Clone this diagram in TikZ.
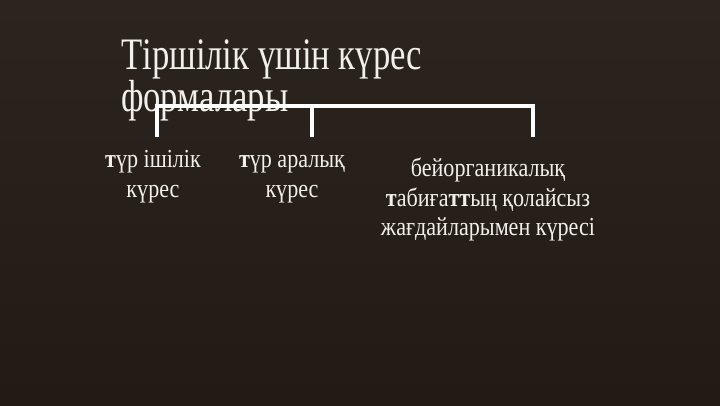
\documentclass[tikz,border=0pt]{standalone}
\usepackage{fontspec}
\setmainfont{Liberation Serif}[FakeStretch=0.85]
\newfontfamily\titlefont{Liberation Serif}[FakeStretch=0.77]
\definecolor{bgtop}{HTML}{2C251F}
\definecolor{bgbot}{HTML}{221B15}
\definecolor{txt}{HTML}{F2F0EC}
\tikzset{
  subtext/.style={text=txt, align=center, inner sep=0pt, anchor=base,
    font=\fontsize{26}{29.5}\selectfont},
  bracket/.style={draw=white, line width=3.5pt, line join=miter},
}
\begin{document}
\begin{tikzpicture}[x=1pt,y=-1pt]
\shade[top color=bgtop, bottom color=bgbot] (0,0) rectangle (720,405);
\useasboundingbox (0,0) rectangle (720,405);
\node[text=txt, align=left, inner sep=0pt, anchor=base west,
  font=\titlefont\fontsize{45}{38}\selectfont] (title) at (121,111)
  {Тіршілік үшін күрес\\формалары};
\coordinate (hl) at (157,106);
\coordinate (hm) at (312,106);
\coordinate (hr) at (533,106);
\coordinate (dl) at (157,137);
\coordinate (dm) at (312,137);
\coordinate (dr) at (533,137);
\draw[bracket] (dl) -- (hl) -- (hr) -- (dr);
\draw[bracket] (hm) -- (dm);
\node[subtext] (sub1) at (153,197) {\textbf{т}үр ішілік\\күрес};
\node[subtext] (sub2) at (292,197) {\textbf{т}үр аралық\\күрес};
\node[subtext] (sub3) at (488,235.5) {бейорганикалық\\\textbf{т}абиға\textbf{тт}ың қолайсыз\\жағдайларымен күресі};
\end{tikzpicture}
\end{document}
